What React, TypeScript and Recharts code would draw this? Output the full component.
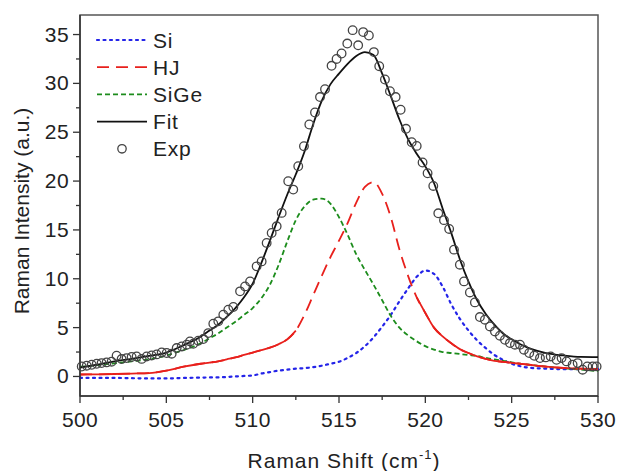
import {
  ComposedChart,
  Line,
  Scatter,
  XAxis,
  YAxis,
  Legend,
  ReferenceArea,
  Label,
} from 'recharts';

// fitted component curves
const curveX = [
  500, 501, 502, 503, 504, 505, 506, 507, 507.5, 508, 508.5, 509, 509.5, 510, 510.5, 511, 511.5, 512, 512.5, 513,
  513.5, 514, 514.5, 515, 515.5, 516, 516.5, 517, 517.5, 518, 518.5, 519, 519.5, 520, 520.5, 521, 521.5, 522, 522.5,
  523, 523.5, 524, 524.5, 525, 525.5, 526, 527, 528, 529, 530,
];
const siY = [
  -0.15, -0.15, -0.15, -0.18, -0.2, -0.2, -0.15, -0.12, -0.1, -0.1, -0.05, 0, 0.05, 0.1, 0.3, 0.45, 0.6, 0.7, 0.8, 0.85,
  0.95, 1.1, 1.3, 1.5, 1.9, 2.4, 3.1, 4.0, 5.1, 6.3, 7.7, 9.0, 10.2, 10.85, 10.5, 9.2, 7.4, 5.9, 4.7,
  3.7, 2.9, 2.2, 1.7, 1.3, 1.05, 0.9, 0.8, 0.75, 0.75, 0.75,
];
const hjY = [
  0.2, 0.22, 0.25, 0.3, 0.35, 0.6, 1.0, 1.3, 1.42, 1.55, 1.75, 1.95, 2.2, 2.45, 2.7, 2.95, 3.3, 3.8, 4.7, 6.3,
  8.3, 10.3, 12.2, 13.9, 15.7, 17.8, 19.4, 19.9, 18.7, 16.3, 13.0, 10.3, 8.1, 6.5, 5.0, 4.1, 3.4, 2.8, 2.4,
  2.05, 1.8, 1.6, 1.5, 1.4, 1.3, 1.2, 1.0, 0.87, 0.8, 0.75,
];
const sigeY = [
  1.0, 1.15, 1.35, 1.55, 1.75, 2.15, 2.7, 3.4, 3.9, 4.4, 5.0, 5.6, 6.3, 7.0, 8.0, 9.4, 11.4, 13.8, 16.0, 17.4,
  18.1, 18.2, 17.7, 16.3, 14.5, 12.5, 10.9, 9.4, 7.8, 6.2, 5.0, 4.2, 3.6, 3.1, 2.75, 2.5, 2.4, 2.3, 2.2,
  2.1, 1.9, 1.75, 1.6, 1.45, 1.3, 1.2, 1.0, 0.85, 0.7, 0.55,
];
const fitY = [
  0.9, 1.2, 1.55, 1.8, 2.1, 2.45, 3.2, 4.1, 4.7, 5.3, 6.1, 7.0, 8.1, 9.5, 11.6, 13.9, 16.3, 18.6, 20.7, 23.0,
  25.8, 28.2, 29.9, 31.0, 32.0, 32.8, 33.2, 32.9, 31.0, 28.7, 26.3, 24.3, 22.8, 21.5, 19.8, 17.2, 14.7, 12.0, 9.7,
  7.8, 6.4, 5.3, 4.4, 3.8, 3.3, 2.9, 2.4, 2.15, 2.0, 1.98,
];

// measured spectrum
const expX = [
  500.1, 500.39, 500.68, 500.97, 501.25, 501.54, 501.83, 502.12, 502.41, 502.7, 502.99, 503.28, 503.57, 503.86,
  504.15, 504.44, 504.73, 505.02, 505.31, 505.6, 505.89, 506.18, 506.37, 506.56, 506.85, 507.14, 507.43, 507.72,
  508.01, 508.3, 508.59, 508.88, 509.27, 509.56, 509.85, 510.23, 510.52, 510.81, 511.1, 511.39, 511.68, 512.06,
  512.35, 512.64, 512.97, 513.28, 513.61, 513.9, 514.19, 514.57, 514.86, 515.15, 515.48, 515.79, 516.11, 516.4,
  516.73, 517.02, 517.33, 517.66, 517.95, 518.28, 518.57, 518.88, 519.21, 519.5, 519.84, 520.13, 520.46, 520.75,
  521.08, 521.38, 521.66, 522.0, 522.24, 522.58, 522.87, 523.16, 523.45, 523.74, 524.03, 524.32, 524.61, 524.9,
  525.19, 525.48, 525.71, 526.02, 526.31, 526.64, 526.97, 527.26, 527.6, 527.89, 528.18, 528.53, 528.82, 529.11,
  529.38, 529.69, 529.92,
];
const expY = [
  1.02, 1.1, 1.2, 1.3, 1.37, 1.44, 1.51, 2.12, 1.78, 1.88, 1.99, 2.05, 1.8, 2.05,
  2.15, 2.26, 2.46, 2.4, 2.33, 2.91, 3.07, 3.25, 3.59, 3.35, 3.66, 3.83, 4.44, 5.4,
  5.64, 6.32, 6.83, 7.11, 8.71, 9.22, 9.73, 11.27, 11.78, 13.67, 14.69, 15.37, 16.74, 19.98,
  19.13, 21.52, 23.57, 25.79, 27.02, 28.6, 29.4, 31.8, 32.5, 33.06, 34.08, 35.45, 33.9, 35.25,
  34.9, 33.2, 31.76, 30.4, 29.2, 28.6, 27.3, 25.35, 23.98, 23.6, 21.9, 20.8, 19.5, 16.7,
  16.0, 15.1, 12.98, 11.44, 9.73, 8.6, 7.58, 6.08, 5.81, 5.12, 4.61, 4.17, 3.76, 3.42,
  3.25, 3.25, 2.74, 2.4, 2.12, 1.88, 1.95, 2.05, 1.71, 1.88, 1.54, 1.2, 1.37, 0.69,
  1.03, 1.03, 1.03,
];

const xTicks = [500, 502.5, 505, 507.5, 510, 512.5, 515, 517.5, 520, 522.5, 525, 527.5, 530];
const yTicks = [0, 2.5, 5, 7.5, 10, 12.5, 15, 17.5, 20, 22.5, 25, 27.5, 30, 32.5, 35];

const curveTable = curveX.map((x, i) => ({
  x,
  si: siY[i],
  hj: hjY[i],
  // HJ tails look solid in the original, only the peak is dashed
  hjTail: x <= 512.5 || x >= 519.5 ? hjY[i] : null,
  sige: sigeY[i],
  fit: fitY[i],
}));
const expTable = expX.map((x, i) => ({ x, y: expY[i] }));

const FONT = '"Liberation Sans", Arial, sans-serif';
const TEXT = '#222';
const AXIS = '#333';

const legendItems = [
  { name: 'Si', color: '#2424e8', dash: '2 4.5', width: 2.2 },
  { name: 'HJ', color: '#e8201c', dash: '12 7', width: 1.8 },
  { name: 'SiGe', color: '#1c8c1c', dash: '5 3', width: 1.8 },
  { name: 'Fit', color: '#111', dash: undefined, width: 1.8 },
  { name: 'Exp', color: '#444', dash: undefined, width: 1.3 },
];

const XTick = (props: any) => {
  const { x, y, payload } = props;
  const major = payload.value % 5 === 0;
  return (
    <g>
      <line x1={x} x2={x} y1={y} y2={y + (major ? 7 : 4)} stroke={AXIS} strokeWidth={1.3} />
      {major && (
        <text x={x} y={y + 31} textAnchor="middle" fontSize={21} letterSpacing={0.4} fill={TEXT} fontFamily={FONT}>
          {payload.value}
        </text>
      )}
    </g>
  );
};

const YTick = (props: any) => {
  const { x, y, payload } = props;
  const major = payload.value % 5 === 0;
  return (
    <g>
      <line x1={x - (major ? 7 : 4)} x2={x} y1={y} y2={y} stroke={AXIS} strokeWidth={1.3} />
      {major && (
        <text x={x - 11} y={y + 7} textAnchor="end" fontSize={21} letterSpacing={0.4} fill={TEXT} fontFamily={FONT}>
          {payload.value}
        </text>
      )}
    </g>
  );
};

const renderLegend = () => (
  <svg width={140} height={140}>
    {legendItems.map((it, i) => {
      const cy = 14 + i * 27.2;
      return (
        <g key={it.name}>
          {it.name === 'Exp' ? (
            <circle cx={30} cy={cy} r={4.2} fill="none" stroke={it.color} strokeWidth={1.3} />
          ) : (
            <line
              x1={5}
              x2={55}
              y1={cy}
              y2={cy}
              stroke={it.color}
              strokeWidth={it.width}
              strokeDasharray={it.dash}
              strokeLinecap={it.name === 'Si' ? 'round' : 'butt'}
            />
          )}
          <text x={61} y={cy + 7.5} fontSize={21} letterSpacing={0.8} fill={TEXT} fontFamily={FONT}>
            {it.name}
          </text>
        </g>
      );
    })}
  </svg>
);

const ExpDot = (props: any) => {
  const { cx, cy } = props;
  return <circle cx={cx} cy={cy} r={4.3} fill="none" stroke="#444" strokeWidth={1.3} />;
};

export default function App() {
  return (
    <div style={{ position: 'absolute', left: 0, top: 0, background: '#fff' }}>
      <ComposedChart
        width={619}
        height={471}
        data={curveTable}
        margin={{ top: 15, right: 21, left: 20, bottom: 25 }}
      >
        <XAxis
          type="number"
          dataKey="x"
          domain={[500, 530]}
          ticks={xTicks}
          tick={<XTick />}
          tickLine={false}
          tickSize={0}
          tickMargin={0}
          height={50}
          axisLine={{ stroke: AXIS, strokeWidth: 1.5 }}
          interval={0}
        >
          <Label
            content={() => (
              <text
                x={344}
                y={468}
                textAnchor="middle"
                fontSize={21}
                letterSpacing={1}
                fill={TEXT}
                fontFamily={FONT}
              >
                Raman Shift (cm
                <tspan fontSize={13} dy={-9}>-1</tspan>
                <tspan dy={9}>)</tspan>
              </text>
            )}
          />
        </XAxis>
        <YAxis
          type="number"
          domain={[-2, 37]}
          ticks={yTicks}
          tick={<YTick />}
          tickLine={false}
          tickSize={0}
          tickMargin={0}
          width={60}
          axisLine={{ stroke: AXIS, strokeWidth: 1.5 }}
          allowDataOverflow
          interval={0}
        >
          <Label
            content={() => (
              <text
                x={21}
                y={211}
                transform="rotate(-90 21 211)"
                textAnchor="middle"
                dominantBaseline="central"
                fontSize={21}
                fill={TEXT}
                fontFamily={FONT}
              >
                Raman Intensity (a.u.)
              </text>
            )}
          />
        </YAxis>
        <ReferenceArea
          x1={500}
          x2={530}
          y1={-2}
          y2={37}
          fill="none"
          stroke="#555"
          strokeWidth={1.5}
          ifOverflow="visible"
        />
        <Line
          type="monotone"
          dataKey="si"
          stroke="#2424e8"
          strokeWidth={2.2}
          strokeDasharray="2 4.5"
          strokeLinecap="round"
          dot={false}
          isAnimationActive={false}
        />
        <Line
          type="monotone"
          dataKey="sige"
          stroke="#1c8c1c"
          strokeWidth={1.8}
          strokeDasharray="5 3"
          dot={false}
          isAnimationActive={false}
        />
        <Line
          type="monotone"
          dataKey="hj"
          stroke="#e8201c"
          strokeWidth={1.8}
          strokeDasharray="12 7"
          dot={false}
          isAnimationActive={false}
        />
        <Line
          type="monotone"
          dataKey="hjTail"
          stroke="#e8201c"
          strokeWidth={1.8}
          dot={false}
          legendType="none"
          isAnimationActive={false}
        />
        <Line
          type="monotone"
          dataKey="fit"
          stroke="#111"
          strokeWidth={1.8}
          dot={false}
          isAnimationActive={false}
        />
        <Scatter data={expTable} dataKey="y" shape={<ExpDot />} isAnimationActive={false} />
        <Legend
          layout="vertical"
          align="center"
          verticalAlign="middle"
          content={renderLegend}
          wrapperStyle={{ top: 26, left: 92, width: 140, height: 140 }}
        />
      </ComposedChart>
    </div>
  );
}
